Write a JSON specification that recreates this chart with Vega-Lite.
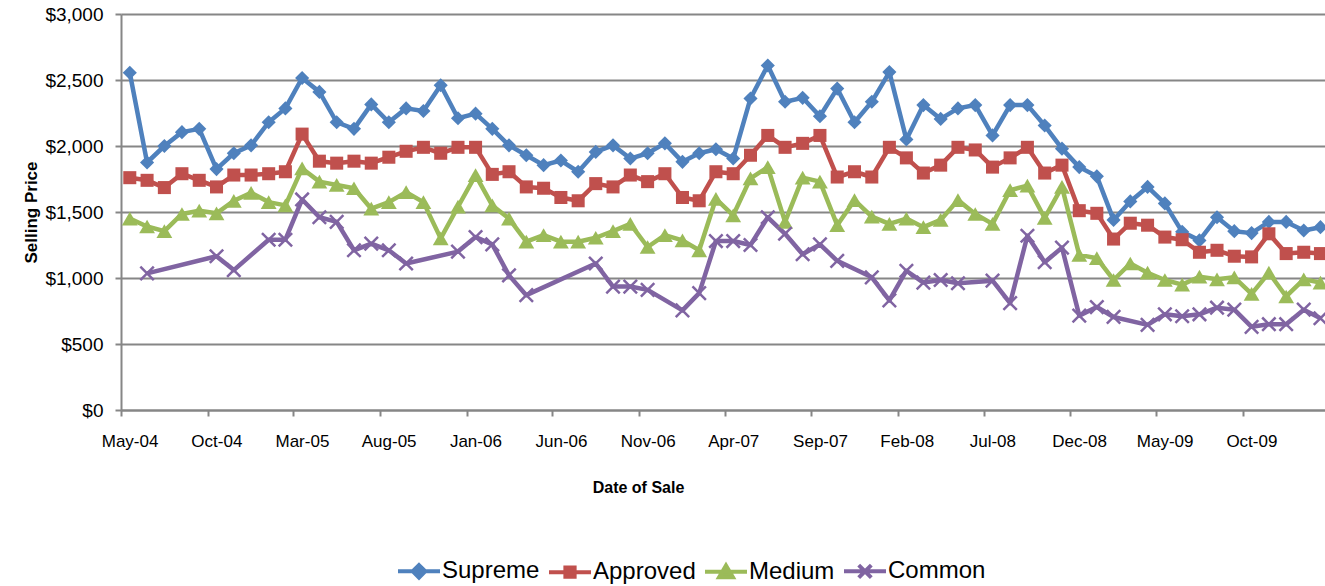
{
  "$schema": "https://vega.github.io/schema/vega-lite/v6.json",
  "autosize": "none",
  "width": 1204,
  "height": 396,
  "padding": {"left": 121, "top": 14, "right": 0, "bottom": 176},
  "background": "white",
  "config": {
    "view": {"stroke": null},
    "font": "Liberation Sans",
    "axis": {"labelFont": "Liberation Sans", "titleFont": "Liberation Sans", "labelColor": "#000000", "titleColor": "#000000"}
  },
  "datasets": {
    "prices": [
      {"d":"2004-05-15","s":"Supreme","v":2555},{"d":"2004-06-15","s":"Supreme","v":1875},{"d":"2004-07-15","s":"Supreme","v":2000},{"d":"2004-08-15","s":"Supreme","v":2105},{"d":"2004-09-15","s":"Supreme","v":2130},{"d":"2004-10-15","s":"Supreme","v":1825},{"d":"2004-11-15","s":"Supreme","v":1945},{"d":"2004-12-15","s":"Supreme","v":2005},
      {"d":"2005-01-15","s":"Supreme","v":2180},{"d":"2005-02-15","s":"Supreme","v":2285},{"d":"2005-03-15","s":"Supreme","v":2515},{"d":"2005-04-15","s":"Supreme","v":2410},{"d":"2005-05-15","s":"Supreme","v":2180},{"d":"2005-06-15","s":"Supreme","v":2130},{"d":"2005-07-15","s":"Supreme","v":2315},{"d":"2005-08-15","s":"Supreme","v":2180},{"d":"2005-09-15","s":"Supreme","v":2285},{"d":"2005-10-15","s":"Supreme","v":2265},{"d":"2005-11-15","s":"Supreme","v":2460},{"d":"2005-12-15","s":"Supreme","v":2210},
      {"d":"2006-01-15","s":"Supreme","v":2245},{"d":"2006-02-15","s":"Supreme","v":2130},{"d":"2006-03-15","s":"Supreme","v":2005},{"d":"2006-04-15","s":"Supreme","v":1930},{"d":"2006-05-15","s":"Supreme","v":1855},{"d":"2006-06-15","s":"Supreme","v":1890},{"d":"2006-07-15","s":"Supreme","v":1805},{"d":"2006-08-15","s":"Supreme","v":1955},{"d":"2006-09-15","s":"Supreme","v":2005},{"d":"2006-10-15","s":"Supreme","v":1905},{"d":"2006-11-15","s":"Supreme","v":1945},{"d":"2006-12-15","s":"Supreme","v":2020},
      {"d":"2007-01-15","s":"Supreme","v":1880},{"d":"2007-02-15","s":"Supreme","v":1945},{"d":"2007-03-15","s":"Supreme","v":1975},{"d":"2007-04-15","s":"Supreme","v":1905},{"d":"2007-05-15","s":"Supreme","v":2360},{"d":"2007-06-15","s":"Supreme","v":2610},{"d":"2007-07-15","s":"Supreme","v":2335},{"d":"2007-08-15","s":"Supreme","v":2365},{"d":"2007-09-15","s":"Supreme","v":2225},{"d":"2007-10-15","s":"Supreme","v":2435},{"d":"2007-11-15","s":"Supreme","v":2180},{"d":"2007-12-15","s":"Supreme","v":2335},
      {"d":"2008-01-15","s":"Supreme","v":2560},{"d":"2008-02-15","s":"Supreme","v":2050},{"d":"2008-03-15","s":"Supreme","v":2310},{"d":"2008-04-15","s":"Supreme","v":2205},{"d":"2008-05-15","s":"Supreme","v":2285},{"d":"2008-06-15","s":"Supreme","v":2310},{"d":"2008-07-15","s":"Supreme","v":2080},{"d":"2008-08-15","s":"Supreme","v":2310},{"d":"2008-09-15","s":"Supreme","v":2310},{"d":"2008-10-15","s":"Supreme","v":2155},{"d":"2008-11-15","s":"Supreme","v":1980},{"d":"2008-12-15","s":"Supreme","v":1840},
      {"d":"2009-01-15","s":"Supreme","v":1770},{"d":"2009-02-15","s":"Supreme","v":1440},{"d":"2009-03-15","s":"Supreme","v":1580},{"d":"2009-04-15","s":"Supreme","v":1690},{"d":"2009-05-15","s":"Supreme","v":1565},{"d":"2009-06-15","s":"Supreme","v":1350},{"d":"2009-07-15","s":"Supreme","v":1285},{"d":"2009-08-15","s":"Supreme","v":1460},{"d":"2009-09-15","s":"Supreme","v":1355},{"d":"2009-10-15","s":"Supreme","v":1340},{"d":"2009-11-15","s":"Supreme","v":1425},{"d":"2009-12-15","s":"Supreme","v":1425},
      {"d":"2010-01-15","s":"Supreme","v":1360},{"d":"2010-02-15","s":"Supreme","v":1385},

      {"d":"2004-05-15","s":"Approved","v":1760},{"d":"2004-06-15","s":"Approved","v":1740},{"d":"2004-07-15","s":"Approved","v":1685},{"d":"2004-08-15","s":"Approved","v":1790},{"d":"2004-09-15","s":"Approved","v":1740},{"d":"2004-10-15","s":"Approved","v":1690},{"d":"2004-11-15","s":"Approved","v":1780},{"d":"2004-12-15","s":"Approved","v":1780},
      {"d":"2005-01-15","s":"Approved","v":1790},{"d":"2005-02-15","s":"Approved","v":1805},{"d":"2005-03-15","s":"Approved","v":2090},{"d":"2005-04-15","s":"Approved","v":1885},{"d":"2005-05-15","s":"Approved","v":1870},{"d":"2005-06-15","s":"Approved","v":1885},{"d":"2005-07-15","s":"Approved","v":1870},{"d":"2005-08-15","s":"Approved","v":1915},{"d":"2005-09-15","s":"Approved","v":1960},{"d":"2005-10-15","s":"Approved","v":1990},{"d":"2005-11-15","s":"Approved","v":1945},{"d":"2005-12-15","s":"Approved","v":1990},
      {"d":"2006-01-15","s":"Approved","v":1990},{"d":"2006-02-15","s":"Approved","v":1785},{"d":"2006-03-15","s":"Approved","v":1805},{"d":"2006-04-15","s":"Approved","v":1690},{"d":"2006-05-15","s":"Approved","v":1680},{"d":"2006-06-15","s":"Approved","v":1610},{"d":"2006-07-15","s":"Approved","v":1585},{"d":"2006-08-15","s":"Approved","v":1715},{"d":"2006-09-15","s":"Approved","v":1690},{"d":"2006-10-15","s":"Approved","v":1780},{"d":"2006-11-15","s":"Approved","v":1730},{"d":"2006-12-15","s":"Approved","v":1790},
      {"d":"2007-01-15","s":"Approved","v":1610},{"d":"2007-02-15","s":"Approved","v":1585},{"d":"2007-03-15","s":"Approved","v":1805},{"d":"2007-04-15","s":"Approved","v":1790},{"d":"2007-05-15","s":"Approved","v":1930},{"d":"2007-06-15","s":"Approved","v":2080},{"d":"2007-07-15","s":"Approved","v":1990},{"d":"2007-08-15","s":"Approved","v":2020},{"d":"2007-09-15","s":"Approved","v":2080},{"d":"2007-10-15","s":"Approved","v":1765},{"d":"2007-11-15","s":"Approved","v":1805},{"d":"2007-12-15","s":"Approved","v":1765},
      {"d":"2008-01-15","s":"Approved","v":1990},{"d":"2008-02-15","s":"Approved","v":1910},{"d":"2008-03-15","s":"Approved","v":1795},{"d":"2008-04-15","s":"Approved","v":1855},{"d":"2008-05-15","s":"Approved","v":1990},{"d":"2008-06-15","s":"Approved","v":1970},{"d":"2008-07-15","s":"Approved","v":1840},{"d":"2008-08-15","s":"Approved","v":1910},{"d":"2008-09-15","s":"Approved","v":1990},{"d":"2008-10-15","s":"Approved","v":1795},{"d":"2008-11-15","s":"Approved","v":1855},{"d":"2008-12-15","s":"Approved","v":1510},
      {"d":"2009-01-15","s":"Approved","v":1490},{"d":"2009-02-15","s":"Approved","v":1295},{"d":"2009-03-15","s":"Approved","v":1415},{"d":"2009-04-15","s":"Approved","v":1400},{"d":"2009-05-15","s":"Approved","v":1310},{"d":"2009-06-15","s":"Approved","v":1290},{"d":"2009-07-15","s":"Approved","v":1195},{"d":"2009-08-15","s":"Approved","v":1210},{"d":"2009-09-15","s":"Approved","v":1165},{"d":"2009-10-15","s":"Approved","v":1160},{"d":"2009-11-15","s":"Approved","v":1335},{"d":"2009-12-15","s":"Approved","v":1185},
      {"d":"2010-01-15","s":"Approved","v":1195},{"d":"2010-02-15","s":"Approved","v":1185},

      {"d":"2004-05-15","s":"Medium","v":1450},{"d":"2004-06-15","s":"Medium","v":1390},{"d":"2004-07-15","s":"Medium","v":1355},{"d":"2004-08-15","s":"Medium","v":1485},{"d":"2004-09-15","s":"Medium","v":1510},{"d":"2004-10-15","s":"Medium","v":1490},{"d":"2004-11-15","s":"Medium","v":1585},{"d":"2004-12-15","s":"Medium","v":1645},
      {"d":"2005-01-15","s":"Medium","v":1575},{"d":"2005-02-15","s":"Medium","v":1550},{"d":"2005-03-15","s":"Medium","v":1830},{"d":"2005-04-15","s":"Medium","v":1730},{"d":"2005-05-15","s":"Medium","v":1705},{"d":"2005-06-15","s":"Medium","v":1680},{"d":"2005-07-15","s":"Medium","v":1525},{"d":"2005-08-15","s":"Medium","v":1575},{"d":"2005-09-15","s":"Medium","v":1650},{"d":"2005-10-15","s":"Medium","v":1575},{"d":"2005-11-15","s":"Medium","v":1300},{"d":"2005-12-15","s":"Medium","v":1540},
      {"d":"2006-01-15","s":"Medium","v":1780},{"d":"2006-02-15","s":"Medium","v":1550},{"d":"2006-03-15","s":"Medium","v":1450},{"d":"2006-04-15","s":"Medium","v":1275},{"d":"2006-05-15","s":"Medium","v":1325},{"d":"2006-06-15","s":"Medium","v":1275},{"d":"2006-07-15","s":"Medium","v":1275},{"d":"2006-08-15","s":"Medium","v":1305},{"d":"2006-09-15","s":"Medium","v":1355},{"d":"2006-10-15","s":"Medium","v":1410},{"d":"2006-11-15","s":"Medium","v":1235},{"d":"2006-12-15","s":"Medium","v":1325},
      {"d":"2007-01-15","s":"Medium","v":1285},{"d":"2007-02-15","s":"Medium","v":1210},{"d":"2007-03-15","s":"Medium","v":1600},{"d":"2007-04-15","s":"Medium","v":1475},{"d":"2007-05-15","s":"Medium","v":1755},{"d":"2007-06-15","s":"Medium","v":1840},{"d":"2007-07-15","s":"Medium","v":1425},{"d":"2007-08-15","s":"Medium","v":1760},{"d":"2007-09-15","s":"Medium","v":1730},{"d":"2007-10-15","s":"Medium","v":1400},{"d":"2007-11-15","s":"Medium","v":1590},{"d":"2007-12-15","s":"Medium","v":1465},
      {"d":"2008-01-15","s":"Medium","v":1410},{"d":"2008-02-15","s":"Medium","v":1450},{"d":"2008-03-15","s":"Medium","v":1385},{"d":"2008-04-15","s":"Medium","v":1440},{"d":"2008-05-15","s":"Medium","v":1590},{"d":"2008-06-15","s":"Medium","v":1485},{"d":"2008-07-15","s":"Medium","v":1410},{"d":"2008-08-15","s":"Medium","v":1665},{"d":"2008-09-15","s":"Medium","v":1700},{"d":"2008-10-15","s":"Medium","v":1455},{"d":"2008-11-15","s":"Medium","v":1690},{"d":"2008-12-15","s":"Medium","v":1175},
      {"d":"2009-01-15","s":"Medium","v":1150},{"d":"2009-02-15","s":"Medium","v":985},{"d":"2009-03-15","s":"Medium","v":1110},{"d":"2009-04-15","s":"Medium","v":1040},{"d":"2009-05-15","s":"Medium","v":985},{"d":"2009-06-15","s":"Medium","v":950},{"d":"2009-07-15","s":"Medium","v":1010},{"d":"2009-08-15","s":"Medium","v":990},{"d":"2009-09-15","s":"Medium","v":1005},{"d":"2009-10-15","s":"Medium","v":880},{"d":"2009-11-15","s":"Medium","v":1040},{"d":"2009-12-15","s":"Medium","v":860},
      {"d":"2010-01-15","s":"Medium","v":990},{"d":"2010-02-15","s":"Medium","v":965},

      {"d":"2004-06-15","s":"Common","v":1035},{"d":"2004-10-15","s":"Common","v":1165},{"d":"2004-11-15","s":"Common","v":1060},
      {"d":"2005-01-15","s":"Common","v":1290},{"d":"2005-02-15","s":"Common","v":1290},{"d":"2005-03-15","s":"Common","v":1595},{"d":"2005-04-15","s":"Common","v":1460},{"d":"2005-05-15","s":"Common","v":1425},{"d":"2005-06-15","s":"Common","v":1210},{"d":"2005-07-15","s":"Common","v":1260},{"d":"2005-08-15","s":"Common","v":1210},{"d":"2005-09-15","s":"Common","v":1110},{"d":"2005-12-15","s":"Common","v":1200},
      {"d":"2006-01-15","s":"Common","v":1310},{"d":"2006-02-15","s":"Common","v":1255},{"d":"2006-03-15","s":"Common","v":1020},{"d":"2006-04-15","s":"Common","v":870},{"d":"2006-08-15","s":"Common","v":1110},{"d":"2006-09-15","s":"Common","v":935},{"d":"2006-10-15","s":"Common","v":935},{"d":"2006-11-15","s":"Common","v":910},
      {"d":"2007-01-15","s":"Common","v":755},{"d":"2007-02-15","s":"Common","v":885},{"d":"2007-03-15","s":"Common","v":1280},{"d":"2007-04-15","s":"Common","v":1280},{"d":"2007-05-15","s":"Common","v":1250},{"d":"2007-06-15","s":"Common","v":1460},{"d":"2007-07-15","s":"Common","v":1335},{"d":"2007-08-15","s":"Common","v":1180},{"d":"2007-09-15","s":"Common","v":1255},{"d":"2007-10-15","s":"Common","v":1130},{"d":"2007-12-15","s":"Common","v":1005},
      {"d":"2008-01-15","s":"Common","v":830},{"d":"2008-02-15","s":"Common","v":1055},{"d":"2008-03-15","s":"Common","v":965},{"d":"2008-04-15","s":"Common","v":985},{"d":"2008-05-15","s":"Common","v":960},{"d":"2008-07-15","s":"Common","v":980},{"d":"2008-08-15","s":"Common","v":810},{"d":"2008-09-15","s":"Common","v":1320},{"d":"2008-10-15","s":"Common","v":1120},{"d":"2008-11-15","s":"Common","v":1230},{"d":"2008-12-15","s":"Common","v":715},
      {"d":"2009-01-15","s":"Common","v":780},{"d":"2009-02-15","s":"Common","v":705},{"d":"2009-04-15","s":"Common","v":645},{"d":"2009-05-15","s":"Common","v":725},{"d":"2009-06-15","s":"Common","v":710},{"d":"2009-07-15","s":"Common","v":725},{"d":"2009-08-15","s":"Common","v":775},{"d":"2009-09-15","s":"Common","v":760},{"d":"2009-10-15","s":"Common","v":630},{"d":"2009-11-15","s":"Common","v":650},{"d":"2009-12-15","s":"Common","v":650},
      {"d":"2010-01-15","s":"Common","v":760},{"d":"2010-02-15","s":"Common","v":695}
    ]
  },
  "data": {"name": "prices"},
  "encoding": {
    "x": {
      "field": "d", "type": "temporal", "timeUnit": "yearmonth", "bandPosition": 0.5,
      "scale": {"domain": [{"year": 2004, "month": 5, "date": 1}, {"year": 2010, "month": 2, "date": 23}]},
      "axis": {
        "title": "Date of Sale", "titleFontSize": 16, "titleFontWeight": "bold", "titleX": 517, "titlePadding": 30,
        "values": [
          {"year": 2004, "month": 5, "date": 1}, {"year": 2004, "month": 10, "date": 1},
          {"year": 2005, "month": 3, "date": 1}, {"year": 2005, "month": 8, "date": 1},
          {"year": 2006, "month": 1, "date": 1}, {"year": 2006, "month": 6, "date": 1},
          {"year": 2006, "month": 11, "date": 1}, {"year": 2007, "month": 4, "date": 1},
          {"year": 2007, "month": 9, "date": 1}, {"year": 2008, "month": 2, "date": 1},
          {"year": 2008, "month": 7, "date": 1}, {"year": 2008, "month": 12, "date": 1},
          {"year": 2009, "month": 5, "date": 1}, {"year": 2009, "month": 10, "date": 1}
        ],
        "format": "%b-%y", "formatType": "time", "labelOffset": 8.6, "labelFontSize": 17, "labelPadding": 17,
        "labelOverlap": false, "labelFlush": false,
        "grid": false, "domainColor": "#868686", "domainWidth": 2, "tickColor": "#868686", "tickWidth": 2, "tickSize": 6
      }
    },
    "y": {
      "field": "v", "type": "quantitative",
      "scale": {"domain": [0, 3000], "nice": false},
      "axis": {
        "title": "Selling Price", "titleFontSize": 17, "titleFontWeight": "bold", "titlePadding": 4,
        "values": [0, 500, 1000, 1500, 2000, 2500, 3000], "format": "$,.0f",
        "labelFontSize": 19, "labelPadding": 12,
        "grid": true, "gridColor": "#868686", "gridWidth": 2,
        "domainColor": "#868686", "domainWidth": 2, "tickColor": "#868686", "tickWidth": 2, "tickSize": 6
      }
    }
  },
  "layer": [
    {
      "mark": {"type": "line", "strokeWidth": 4.5, "strokeJoin": "round", "strokeCap": "butt"},
      "encoding": {
        "color": {
          "field": "s", "type": "nominal",
          "scale": {"domain": ["Supreme", "Approved", "Medium", "Common"], "range": ["#4F81BD", "#C0504D", "#9BBB59", "#8064A2"]},
          "legend": {
            "title": null, "orient": "none", "legendX": 275, "legendY": 534, "direction": "horizontal",
            "symbolSize": 1764, "symbolStrokeWidth": 4,
            "labelFontSize": 24, "labelFont": "Liberation Sans", "labelColor": "#000000", "labelOffset": 0, "columnPadding": 1,
            "encode": {
              "symbols": {
                "update": {
                  "shape": {"signal": "datum.value === 'Supreme' ? 'M-1,0H1M0,-0.3L0.3,0L0,0.3L-0.3,0Z' : datum.value === 'Approved' ? 'M-1,0H1M-0.22,-0.22H0.22V0.22H-0.22Z' : datum.value === 'Medium' ? 'M-1,0H1M0,-0.3L0.33,0.26H-0.33Z' : 'M-1,0H1M-0.3,-0.3L0.3,0.3M0.3,-0.3L-0.3,0.3'"},
                  "fill": {"signal": "scale('color', datum.value)"},
                  "stroke": {"signal": "scale('color', datum.value)"},
                  "strokeWidth": {"value": 4},
                  "opacity": {"value": 1}
                }
              }
            }
          }
        }
      }
    },
    {
      "transform": [{"filter": "datum.s !== 'Common'"}],
      "mark": {"type": "point", "filled": true, "opacity": 1},
      "encoding": {
        "fill": {
          "field": "s", "type": "nominal",
          "scale": {"domain": ["Supreme", "Approved", "Medium"], "range": ["#4F81BD", "#C0504D", "#9BBB59"]},
          "legend": null
        },
        "shape": {
          "field": "s", "type": "nominal",
          "scale": {"domain": ["Supreme", "Approved", "Medium"], "range": ["diamond", "square", "triangle-up"]},
          "legend": null
        },
        "size": {
          "field": "s", "type": "nominal",
          "scale": {"type": "ordinal", "domain": ["Supreme", "Approved", "Medium"], "range": [200, 170, 250]},
          "legend": null
        }
      }
    },
    {
      "transform": [{"filter": "datum.s === 'Common'"}],
      "mark": {"type": "point", "filled": false, "opacity": 1, "size": 180, "shape": "M-1,-1L1,1M1,-1L-1,1", "stroke": "#8064A2", "strokeWidth": 2.5}
    }
  ]
}
